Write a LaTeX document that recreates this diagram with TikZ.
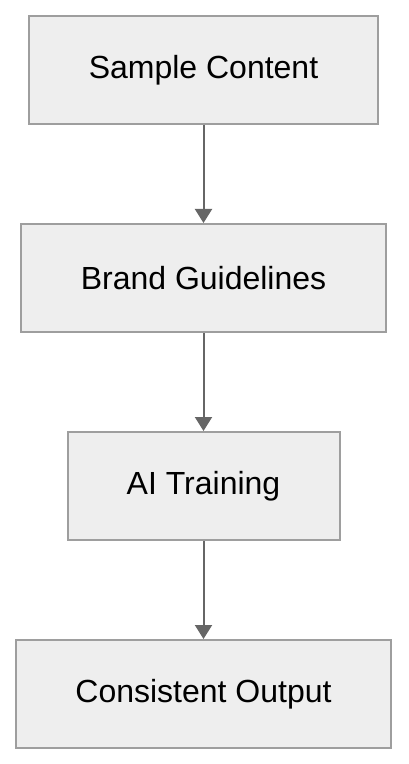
\documentclass[tikz,border=0pt]{standalone}
\usepackage{fontspec}
\setmainfont{Liberation Sans}
\usetikzlibrary{arrows.meta,positioning}
\definecolor{boxfill}{HTML}{EEEEEE}
\definecolor{boxline}{HTML}{9E9E9E}
\definecolor{arrline}{HTML}{666666}

\begin{document}
\begin{tikzpicture}[font=\fontsize{16}{19}\selectfont, node distance=49pt,
  box/.style={draw=boxline, line width=1pt, fill=boxfill, align=center, minimum height=54pt,
  minimum width=#1, inner sep=3pt}, box/.default=175pt,
  arr/.style={-{Triangle[length=7pt, width=8.5pt]}, arrline, line width=1pt}]
\useasboundingbox (0,0) rectangle (204pt,-382pt);
\node[box=174.5pt] (sample) at (101.75pt,-35pt) {Sample Content};
\node[box=182.5pt, below=of sample] (brand) {Brand Guidelines};
\node[box=136pt, below=of brand] (train) {AI Training};
\node[box=187.5pt, below=of train] (output) {Consistent Output};
\draw[arr] (sample) -- (brand);
\draw[arr] (brand) -- (train);
\draw[arr] (train) -- (output);
\end{tikzpicture}
\end{document}
